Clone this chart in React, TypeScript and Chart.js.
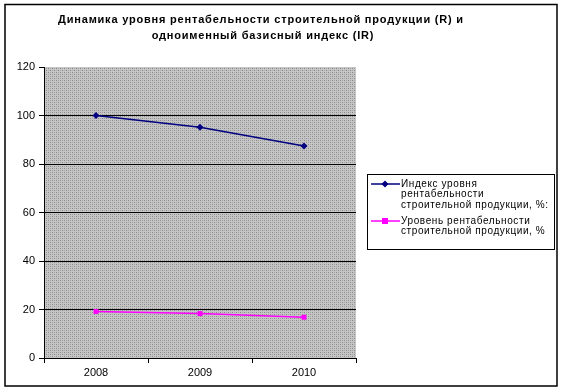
import React, { useEffect, useRef } from "react";
import { Chart, registerables } from "chart.js";

Chart.register(...registerables);

const categories = ["2008", "2009", "2010"];
const indexValues = [100, 95.2, 87.4];
const levelValues = [19.2, 18.3, 16.8];
const yTicks = [0, 20, 40, 60, 80, 100, 120];
const titleLines = [
  "Динамика уровня рентабельности строительной продукции (R) и",
  "одноименный базисный индекс (IR)",
];
const legendIndex = ["Индекс уровня", "рентабельности", "строительной продукции, %:"];
const legendLevel = ["Уровень рентабельности", "строительной продукции, %"];

const FONT = "'Liberation Sans', Arial, sans-serif";

function makePattern(): CanvasPattern | string {
  const c = document.createElement("canvas");
  c.width = 4;
  c.height = 4;
  const g = c.getContext("2d");
  if (!g) return "#bcbcbc";
  g.fillStyle = "#c6c6c6";
  g.fillRect(0, 0, 4, 4);
  g.fillStyle = "#888888";
  g.fillRect(0, 0, 1, 1);
  g.fillRect(2, 2, 1, 1);
  g.fillStyle = "#a4a4a4";
  g.fillRect(2, 0, 1, 1);
  g.fillRect(0, 2, 1, 1);
  const p = g.createPattern(c, "repeat");
  return p || "#bcbcbc";
}

export default function App() {
  const ref = useRef<HTMLCanvasElement | null>(null);

  useEffect(() => {
    if (!ref.current) return;
    const pattern = makePattern();

    const decor = {
      id: "decor",
      beforeDraw(chart: any) {
        const { ctx, chartArea } = chart;
        ctx.save();
        ctx.fillStyle = "#ffffff";
        ctx.fillRect(0, 0, chart.width, chart.height);
        ctx.fillStyle = pattern as any;
        ctx.fillRect(chartArea.left, chartArea.top, chartArea.right - chartArea.left, chartArea.bottom - chartArea.top);
        ctx.restore();
      },
      afterDraw(chart: any) {
        const { ctx } = chart;
        ctx.save();
        // outer border
        ctx.strokeStyle = "#000000";
        ctx.lineWidth = 1.5;
        ctx.strokeRect(5, 4.5, 552, 381.5);
        // title
        ctx.fillStyle = "#000000";
        ctx.font = `bold 11px ${FONT}`;
        (ctx as any).letterSpacing = "0.8px";
        ctx.textAlign = "center";
        ctx.textBaseline = "middle";
        ctx.fillText(titleLines[0], 261, 20);
        ctx.fillText(titleLines[1], 263, 36);
        // legend
        const lx = 367, ly = 174, lw = 187, lh = 75;
        ctx.fillStyle = "#ffffff";
        ctx.fillRect(lx, ly, lw, lh);
        ctx.strokeStyle = "#000000";
        ctx.lineWidth = 1;
        ctx.strokeRect(lx + 0.5, ly + 0.5, lw, lh);
        ctx.font = `10px ${FONT}`;
        (ctx as any).letterSpacing = "0.6px";
        ctx.textAlign = "left";
        ctx.fillStyle = "#000000";
        const lineH = 10.5;
        legendIndex.forEach((t, i) => ctx.fillText(t, 401, 184 + i * lineH));
        legendLevel.forEach((t, i) => ctx.fillText(t, 401, 221 + i * lineH));
        (ctx as any).letterSpacing = "0px";
        // samples
        ctx.lineWidth = 1.5;
        ctx.strokeStyle = "#000080";
        ctx.beginPath();
        ctx.moveTo(371, 184);
        ctx.lineTo(400, 184);
        ctx.stroke();
        ctx.fillStyle = "#000080";
        ctx.beginPath();
        ctx.moveTo(385, 180.5);
        ctx.lineTo(388.5, 184);
        ctx.lineTo(385, 187.5);
        ctx.lineTo(381.5, 184);
        ctx.closePath();
        ctx.fill();
        ctx.strokeStyle = "#ff00ff";
        ctx.beginPath();
        ctx.moveTo(371, 221);
        ctx.lineTo(400, 221);
        ctx.stroke();
        ctx.fillStyle = "#ff00ff";
        ctx.fillRect(382, 218, 6, 6);
        ctx.restore();
      },
    };

    const chart = new Chart(ref.current, {
      type: "line",
      data: {
        labels: categories,
        datasets: [
          {
            label: legendIndex.join(" "),
            data: indexValues,
            borderColor: "#000080",
            backgroundColor: "#000080",
            borderWidth: 1.5,
            pointStyle: "rectRot",
            pointRadius: 3.5,
            pointBorderWidth: 0,
            tension: 0,
          },
          {
            label: legendLevel.join(" "),
            data: levelValues,
            borderColor: "#ff00ff",
            backgroundColor: "#ff00ff",
            borderWidth: 1.5,
            pointStyle: "rect",
            pointRadius: 3.5,
            pointBorderWidth: 0,
            tension: 0,
          },
        ],
      },
      options: {
        animation: false,
        responsive: false,
        devicePixelRatio: 1,
        layout: { padding: { left: 0, right: 208, top: 67, bottom: 0 } },
        plugins: {
          legend: { display: false },
          title: { display: false },
          tooltip: { enabled: false },
        },
        scales: {
          x: {
            type: "category",
            offset: true,
            afterFit: (s: any) => {
              s.height = 34;
            },
            grid: {
              offset: true,
              drawOnChartArea: false,
              tickLength: 5,
              tickColor: "#000000",
              color: "#000000",
            },
            border: { color: "#000000", width: 1 },
            ticks: {
              color: "#000000",
              font: { family: FONT, size: 11 },
              padding: 3,
              maxRotation: 0,
            },
          },
          y: {
            min: 0,
            max: 120,
            afterFit: (s: any) => {
              s.width = 44;
            },
            afterBuildTicks: (s: any) => {
              s.ticks = yTicks.map((v) => ({ value: v }));
            },
            grid: {
              color: (c: any) => (c.tick && (c.tick.value === 120 || c.tick.value === 0) ? "rgba(0,0,0,0)" : "#000000"),
              tickColor: "#000000",
              tickLength: 5,
              lineWidth: 1,
            },
            border: { color: "#000000", width: 1 },
            ticks: {
              color: "#000000",
              font: { family: FONT, size: 11 },
              padding: 4,
            },
          },
        },
      },
      plugins: [decor],
    });

    return () => chart.destroy();
  }, []);

  return (
    <div style={{ position: "fixed", left: 0, top: 0, width: 564, height: 392 }}>
      <canvas ref={ref} width={564} height={392} style={{ width: 564, height: 392, display: "block" }} />
    </div>
  );
}
